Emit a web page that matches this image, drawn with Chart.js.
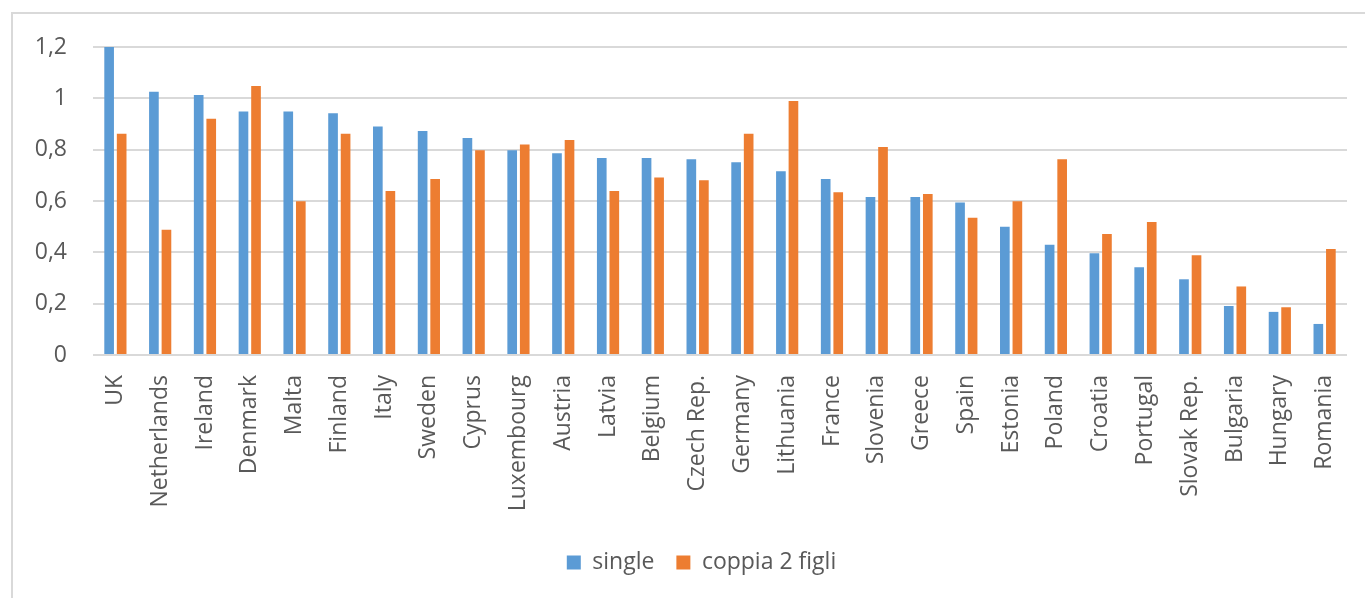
<!DOCTYPE html>
<html>
<head>
<meta charset="utf-8">
<script src="https://cdn.jsdelivr.net/npm/chart.js@4/dist/chart.umd.min.js"></script>
<style>
  html, body { margin: 0; padding: 0; background: #fff; overflow: hidden; }
  #frame { position: absolute; left: 11px; top: 12px; width: 1400px; height: 620px;
           border-left: 2px solid #d9d9d9; border-top: 2px solid #d9d9d9; }
  #wrap { position: absolute; left: 0; top: 0; width: 1365px; height: 598px; }
</style>
</head>
<body>
<div id="frame"></div>
<div id="wrap"><canvas id="c" width="1365" height="598"></canvas></div>
<script>
const categories = ["UK","Netherlands","Ireland","Denmark","Malta","Finland","Italy","Sweden","Cyprus","Luxembourg","Austria","Latvia","Belgium","Czech Rep.","Germany","Lithuania","France","Slovenia","Greece","Spain","Estonia","Poland","Croatia","Portugal","Slovak Rep.","Bulgaria","Hungary","Romania"];
const singleValues = [1.207,1.026,1.013,0.949,0.949,0.942,0.890,0.873,0.845,0.798,0.786,0.768,0.768,0.763,0.751,0.716,0.686,0.616,0.616,0.594,0.500,0.430,0.396,0.342,0.295,0.191,0.168,0.121];
const coppiaValues = [0.862,0.488,0.920,1.048,0.599,0.862,0.639,0.686,0.798,0.820,0.838,0.639,0.692,0.681,0.862,0.990,0.634,0.810,0.627,0.535,0.599,0.763,0.471,0.518,0.389,0.267,0.186,0.413];
const seriesNames = ["single","coppia 2 figli"];
const yTicks = [0,0.2,0.4,0.6,0.8,1,1.2];

const FONT = "'Open Sans', 'Noto Sans', sans-serif";
const TXT = "#595959";

const legendShift = {
  id: "legendShift",
  afterLayout(chart) {
    if (chart.legend) { chart.legend.left += 28; chart.legend.right += 28; }
  }
};

new Chart(document.getElementById("c"), {
  type: "bar",
  data: {
    labels: categories,
    datasets: [
      { label: seriesNames[0], data: singleValues, backgroundColor: "#5B9BD5", barPercentage: 0.77, categoryPercentage: 0.56 },
      { label: seriesNames[1], data: coppiaValues, backgroundColor: "#ED7D31", barPercentage: 0.77, categoryPercentage: 0.56 }
    ]
  },
  plugins: [legendShift],
  options: {
    responsive: false,
    animation: false,
    devicePixelRatio: 1,
    layout: { padding: { left: 0, right: 18, top: 47, bottom: 14 } },
    plugins: {
      tooltip: { enabled: false },
      legend: {
        position: "bottom",
        labels: { color: TXT, font: { family: FONT, size: 23 }, boxWidth: 14, boxHeight: 14, padding: 22 }
      }
    },
    scales: {
      x: {
        grid: { display: false },
        border: { display: false },
        ticks: { color: TXT, font: { family: FONT, size: 23 }, maxRotation: 90, minRotation: 90, padding: 12, autoSkip: false },
        afterFit: (s) => { s.height = 174; }
      },
      y: {
        min: 0, max: 1.2,
        afterBuildTicks: (s) => { s.ticks = yTicks.map(v => ({ value: v })); },
        grid: { color: "#d9d9d9", lineWidth: 2, drawTicks: false },
        border: { display: false },
        ticks: { color: TXT, font: { family: FONT, size: 23 }, padding: 26,
                 callback: (v) => String(v).replace(".", ",") },
        afterFit: (s) => { s.width = 93; }
      }
    }
  }
});
</script>
</body>
</html>
